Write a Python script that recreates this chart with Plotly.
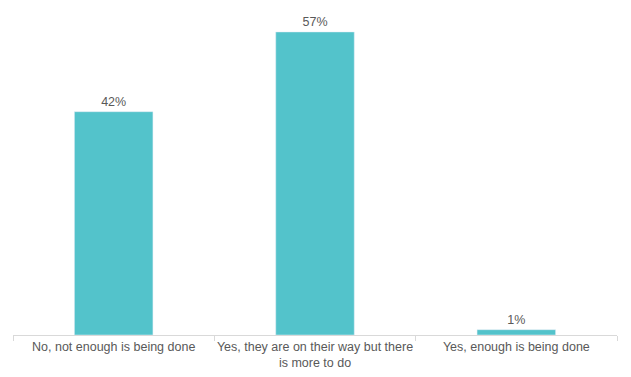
import plotly.graph_objects as go

categories = ["No, not enough is being done",
              "Yes, they are on their way but there<br>is more to do",
              "Yes, enough is being done"]
values = [42, 57, 1]
labels = ["42%", "57%", "1%"]

fig = go.Figure(go.Bar(
    x=categories, y=values, text=labels, textposition="outside",
    marker_color="#53C3CB", cliponaxis=False,
    textfont=dict(color="#595959", size=12.5, family="Liberation Sans, Arial"),
))
fig.update_layout(
    width=623, height=369,
    margin=dict(l=5, r=14, t=8, b=42),
    paper_bgcolor="white", plot_bgcolor="white",
    bargap=0.61, showlegend=False,
    font=dict(family="Liberation Sans, Arial", color="#595959", size=12.5),
)
fig.update_xaxes(showline=True, linecolor="#d9d9d9", linewidth=1,
                 ticks="outside", tickson="boundaries", ticklen=5,
                 tickcolor="#d9d9d9", showgrid=False, tickangle=0,
                 automargin=False)
fig.update_yaxes(range=[0, 60], visible=False, showgrid=False, automargin=False)
fig.write_html("out.html")
